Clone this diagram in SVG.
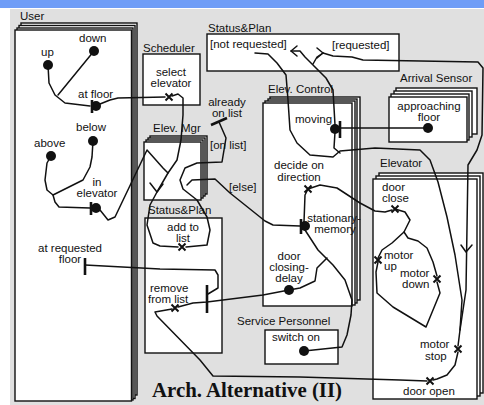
<svg xmlns="http://www.w3.org/2000/svg" width="484" height="405" viewBox="0 0 484 405">
<style>
text{font-family:"Liberation Sans",Arial,sans-serif;font-size:11.5px;fill:#111}
.c{text-anchor:middle}
.f{fill:#fff;stroke:#111;stroke-width:1.4}
.l{fill:none;stroke:#111;stroke-width:1.5;stroke-linejoin:round;stroke-linecap:round}
.b{stroke:#111;stroke-width:2.6}
.x{stroke:#111;stroke-width:2}
.d{fill:#111}
.t{font-family:"Liberation Serif","Times New Roman",serif;font-size:20px;font-weight:bold}
</style>
<defs>
<g id="xm"><path class="x" d="M-3.5,-3.5L3.5,3.5M-3.5,3.5L3.5,-3.5"/></g>
</defs>
<rect x="0" y="0" width="484" height="405" fill="#fff"/>
<rect x="0" y="0" width="484" height="8" fill="#6f9df7"/>
<rect x="10" y="9" width="474" height="396" fill="#e0e0e0"/>

<g id="user">
<text x="20" y="20">User</text>
<rect class="f" x="21" y="23" width="116" height="372"/>
<rect class="f" x="19" y="25.5" width="116" height="373"/>
<rect class="f" x="17" y="28" width="116" height="372"/>
<rect class="f" x="15" y="30" width="116.5" height="371"/>
<text x="41" y="56">up</text>
<circle class="d" cx="48" cy="65" r="5"/>
<text x="79" y="42">down</text>
<circle class="d" cx="94" cy="51" r="5"/>
<text x="78" y="98">at floor</text>
<circle class="d" cx="96" cy="106" r="5"/>
<path class="b" d="M92,100V113"/>
<text x="76" y="131">below</text>
<circle class="d" cx="93" cy="141" r="5"/>
<text x="34" y="147">above</text>
<circle class="d" cx="51" cy="156" r="5"/>
<text class="c" x="97" y="186">in</text>
<text class="c" x="97" y="197">elevator</text>
<circle class="d" cx="96" cy="208" r="5"/>
<path class="b" d="M91,202V215"/>
<text class="c" x="70" y="252">at requested</text>
<text class="c" x="70" y="263">floor</text>
<path class="b" d="M85,258V275"/>
</g>

<g id="scheduler">
<text x="143" y="52">Scheduler</text>
<rect class="f" x="143" y="54" width="57" height="51"/>
<text class="c" x="171" y="76">select</text>
<text class="c" x="171" y="87">elevator</text>
<use href="#xm" x="169" y="97"/>
</g>

<g id="status-plan-top">
<text x="208" y="32">Status&amp;Plan</text>
<rect class="f" x="207" y="34" width="192" height="37"/>
<text x="210" y="48">[not requested]</text>
<text x="332" y="49">[requested]</text>
</g>

<g id="already">
<text class="c" x="227" y="106">already</text>
<text class="c" x="227" y="117">on list</text>
<path class="b" d="M211,125L227,118"/>
<text x="210" y="149">[on list]</text>
<text x="229" y="191">[else]</text>
</g>

<g id="elev-mgr">
<text x="153" y="132">Elev. Mgr</text>
<rect class="f" x="150" y="136" width="57" height="58"/>
<rect class="f" x="148" y="138" width="57" height="58"/>
<rect class="f" x="146" y="140" width="57" height="58"/>
<rect class="f" x="144" y="142" width="57" height="58"/>
</g>

<g id="status-plan-bottom">
<text x="148" y="214">Status&amp;Plan</text>
<rect class="f" x="145" y="218" width="77" height="135"/>
<text class="c" x="183" y="231">add to</text>
<text class="c" x="183" y="242">list</text>
<use href="#xm" x="182" y="247"/>
<text x="150" y="292">remove</text>
<text x="148" y="303">from list</text>
<use href="#xm" x="175" y="308"/>
<path class="b" d="M207,285V313"/>
</g>

<g id="elev-control">
<text x="268" y="93">Elev. Control</text>
<rect class="f" x="270" y="97" width="90" height="203"/>
<rect class="f" x="268" y="99" width="89" height="204"/>
<rect class="f" x="265" y="101" width="90" height="204"/>
<rect class="f" x="263" y="103" width="89" height="203"/>
<text x="295" y="123">moving</text>
<circle class="d" cx="335" cy="129" r="5"/>
<path class="b" d="M340,121V138"/>
<text class="c" x="299" y="169">decide on</text>
<text class="c" x="299" y="181">direction</text>
<use href="#xm" x="308" y="189"/>
<text class="c" x="334" y="222">stationary-</text>
<text class="c" x="335" y="233">memory</text>
<circle class="d" cx="305" cy="226" r="5"/>
<path class="b" d="M301,219V234"/>
<text class="c" x="289" y="260">door</text>
<text class="c" x="289" y="271">closing-</text>
<text class="c" x="289" y="282">delay</text>
<circle class="d" cx="289" cy="290" r="5"/>
</g>

<g id="arrival-sensor">
<text x="400" y="82">Arrival Sensor</text>
<rect class="f" x="396" y="88" width="81" height="46"/>
<rect class="f" x="394" y="91" width="78" height="46"/>
<rect class="f" x="391" y="94" width="78" height="46"/>
<rect class="f" x="389" y="97" width="78" height="45"/>
<text class="c" x="429" y="110">approaching</text>
<text class="c" x="429" y="121">floor</text>
<circle class="d" cx="428" cy="128" r="5"/>
</g>

<g id="elevator">
<text x="380" y="167">Elevator</text>
<rect class="f" x="379" y="173" width="104" height="220"/>
<rect class="f" x="376" y="176" width="104" height="220"/>
<rect class="f" x="373" y="179" width="104" height="220"/>
<text x="382" y="191">door</text>
<text x="382" y="202">close</text>
<use href="#xm" x="395" y="209"/>
<text x="384" y="259">motor</text>
<text x="384" y="270">up</text>
<use href="#xm" x="378" y="260"/>
<text x="400" y="277">motor</text>
<text x="402" y="288">down</text>
<use href="#xm" x="437" y="279"/>
<text x="420" y="348">motor</text>
<text x="425" y="360">stop</text>
<use href="#xm" x="458" y="349"/>
<text x="403" y="395">door open</text>
<use href="#xm" x="430" y="381"/>
</g>

<g id="service-personnel">
<text x="237" y="325">Service Personnel</text>
<rect class="f" x="265" y="330" width="73" height="34"/>
<text x="272" y="341">switch on</text>
<circle class="d" cx="304" cy="351" r="5"/>
</g>

<g id="connectors">
<path class="l" d="M48,65L49,83L55,95L65,103L90,106"/>
<path class="l" d="M94,51L58,95"/>
<path class="l" d="M51,156L47,163L45,180L47,190L53,195L55,202L59,207L90,208"/>
<path class="l" d="M93,141L92,157L90,167L83,180L67,188L53,195"/>
<path class="l" d="M100,104L110,100L118,98L165,97"/>
<path class="l" d="M100,210L108,220L115,217L147,150L163,168L168,173"/>
<path class="l" d="M172,96L178,94L183,98L183,115L181,140L177,160L168,173L157,192L150,205L147,225L153,243L160,246L178,247"/>
<path class="l" d="M150,183L157,192L163,184"/>
<path class="l" d="M219,122L226,138L222,162L197,163L185,168L180,180L183,189L197,200L207,217L210,230L207,245L186,247"/>
<path class="l" d="M187,185L192,180L215,179L230,193L265,221L273,225L300,226"/>
<path class="l" d="M255,53L268,54L277,63L286,75L288,100L290,130L297,143L310,155L333,157L340,151L375,148L420,150L430,160L438,182L447,217L455,255L462,300L460,330L458,346"/>
<path class="l" d="M335,132L334,148L340,153"/>
<path class="l" d="M297,46L291,51L297,56"/>
<path class="l" d="M291,51L300,51L305,57L313,65L326,78L333,90L335,125"/>
<path class="l" d="M313,64L317,57L323,53"/>
<path class="l" d="M317,48L323,53L317,58"/>
<path class="l" d="M323,53L333,56L352,57L363,60L478,62L483,68L482,135L477,150L468,165L466,290L463,310L460,330"/>
<path class="l" d="M461,245L466,252L472,245"/>
<path class="l" d="M340,128L428,128"/>
<path class="l" d="M308,189L320,185L337,188L360,203L375,211L385,212L392,210"/>
<path class="l" d="M308,189L305,195L304,222"/>
<path class="l" d="M395,209L405,212L410,220L404,232L408,238L418,241L427,248L433,262L437,276"/>
<path class="l" d="M404,232L392,243L382,250L378,258"/>
<path class="l" d="M378,262L376,272L377,293L393,307L426,327L440,293L437,282"/>
<path class="l" d="M305,230L318,250L333,265L345,280L352,300L351,315L347,335L342,347L304,351"/>
<path class="l" d="M289,290L300,288L315,281L317,268L327,258"/>
<path class="l" d="M289,290L263,295L207,302L193,303L178,307"/>
<path class="l" d="M85,265L160,269L215,270L218,275L218,288L208,294"/>
<path class="l" d="M172,309L155,312L157,316L200,360L213,376L300,377L400,380L427,381"/>
<path class="l" d="M458,352L455,365L447,375L437,379L433,380"/>
</g>

<text class="t" x="152" y="397" textLength="190" lengthAdjust="spacingAndGlyphs">Arch. Alternative (II)</text>
</svg>
